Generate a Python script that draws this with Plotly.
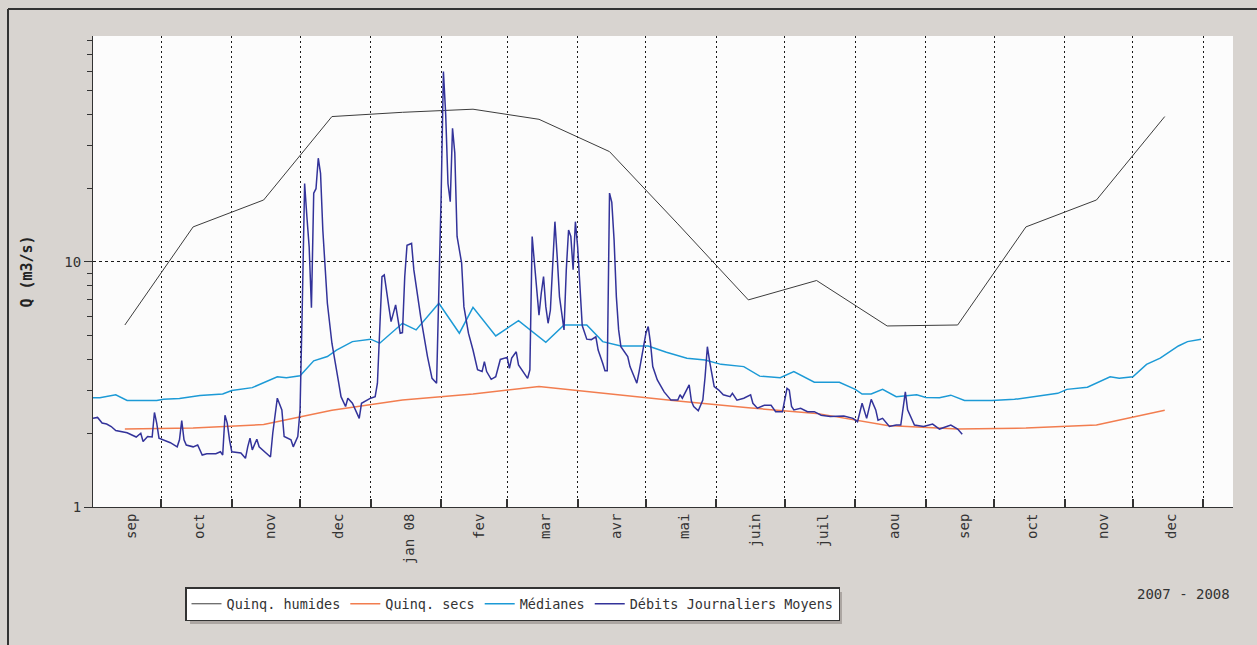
import pandas as pd
import plotly.graph_objects as go

# ---------------- data ----------------
START = "2007-09-01"

# monthly reference values (plotted mid-month)
quinq_dates = ["2007-09-15", "2007-10-15", "2007-11-15", "2007-12-15",
               "2008-01-15", "2008-02-15", "2008-03-15", "2008-04-15",
               "2008-05-15", "2008-06-15", "2008-07-15", "2008-08-15",
               "2008-09-15", "2008-10-15", "2008-11-15", "2008-12-15"]
quinq_humides = [5.53, 13.9, 17.9, 39.2, 40.8, 42.0, 38.2, 28.2,
                 14.3, 7.0, 8.4, 5.48, 5.53, 13.9, 17.9, 39.2]
quinq_secs = [2.08, 2.10, 2.17, 2.48, 2.73, 2.89, 3.10, 2.89,
              2.71, 2.54, 2.41, 2.15, 2.08, 2.10, 2.16, 2.48]

# medians (days since START)
med_day = [0, 3, 10, 15, 28, 31, 38, 47, 57, 61,
           70, 81, 85, 91, 97, 103, 107, 114, 122, 126,
           136, 142, 152, 161, 167, 177, 187, 199, 207, 217,
           224, 232, 244, 252, 261, 269, 276, 286, 293, 302,
           308, 311, 317, 328, 335, 338, 342, 347, 353, 362,
           366, 372, 377, 383, 395, 405, 413, 424, 428, 437,
           447, 451, 457, 463, 469, 477, 481, 487]
med_q = [2.79, 2.79, 2.87, 2.72, 2.72, 2.75, 2.77, 2.85, 2.89, 2.99,
         3.07, 3.40, 3.37, 3.43, 3.95, 4.11, 4.37, 4.73, 4.84, 4.66,
         5.62, 5.28, 6.78, 5.12, 6.53, 4.99, 5.76, 4.70, 5.53, 5.53,
         4.73, 4.54, 4.54, 4.28, 4.05, 3.98, 3.82, 3.74, 3.42, 3.37,
         3.57, 3.46, 3.23, 3.23, 3.02, 2.89, 2.89, 3.02, 2.82, 2.87,
         2.80, 2.79, 2.86, 2.72, 2.72, 2.75, 2.82, 2.91, 3.02, 3.08,
         3.40, 3.35, 3.40, 3.82, 4.05, 4.54, 4.73, 4.84]

# daily mean flows (days since START)
daily_day = [0, 2, 4, 6, 8, 10, 15, 17, 19, 21,
             22, 24, 26, 27, 28, 29, 31, 34, 37, 38,
             39, 40, 41, 44, 46, 48, 50, 54, 56, 57,
             58, 59, 60, 61, 65, 67, 68, 69, 70, 72,
             73, 76, 78, 79, 81, 83, 84, 87, 88, 90,
             91, 92, 93, 94, 95, 96, 97, 98, 99, 100,
             101, 103, 105, 108, 109, 111, 112, 114, 117, 118,
             122, 124, 125, 127, 128, 130, 131, 133, 134, 135,
             136, 137, 138, 140, 141, 144, 147, 149, 151, 152,
             153, 154, 155, 156, 157, 158, 159, 160, 162, 163,
             165, 167, 169, 171, 172, 173, 175, 177, 179, 182,
             183, 184, 186, 187, 191, 192, 193, 194, 195, 196,
             197, 198, 199, 200, 201, 202, 203, 204, 205, 207,
             208, 209, 210, 211, 212, 213, 214, 215, 217, 219,
             221, 222, 224, 225, 226, 227, 228, 229, 230, 231,
             232, 235, 236, 238, 239, 240, 243, 244, 245, 246,
             248, 251, 254, 257, 258, 259, 260, 262, 263, 264,
             266, 268, 269, 270, 271, 273, 275, 277, 280, 281,
             283, 286, 289, 290, 292, 295, 298, 300, 303, 305,
             306, 307, 308, 311, 314, 317, 320, 324, 330, 334,
             336, 338, 340, 342, 344, 345, 347, 350, 353, 355,
             357, 358, 361, 365, 369, 372, 377, 380, 382]
daily_q = [2.30, 2.32, 2.20, 2.18, 2.13, 2.05, 2.01, 1.97, 1.93, 2.00,
           1.85, 1.94, 1.93, 2.43, 2.20, 1.91, 1.88, 1.83, 1.76, 1.88,
           2.25, 1.88, 1.79, 1.76, 1.79, 1.63, 1.65, 1.65, 1.68, 1.63,
           2.37, 2.20, 1.88, 1.68, 1.66, 1.58, 1.76, 1.91, 1.71, 1.89,
           1.76, 1.66, 1.60, 2.00, 2.78, 2.49, 1.94, 1.88, 1.76, 1.94,
           2.49, 6.78, 20.9, 15.3, 11.5, 6.5, 19.1, 19.9, 26.5, 23.0,
           13.5, 6.78, 4.66, 3.20, 2.82, 2.57, 2.78, 2.65, 2.30, 2.65,
           2.78, 2.82, 3.20, 8.71, 8.85, 6.57, 5.71, 6.68, 5.80, 5.12,
           5.15, 8.7, 11.7, 11.9, 9.28, 5.98, 4.11, 3.35, 3.20, 7.22,
           18.5, 59.8, 40.0, 20.9, 17.6, 35.1, 27.8, 12.7, 9.9, 6.57,
           5.12, 4.37, 3.63, 3.57, 3.92, 3.57, 3.32, 3.40, 4.00, 4.08,
           3.68, 4.05, 4.30, 3.80, 3.35, 3.63, 12.7, 9.9, 7.92, 6.07,
           7.45, 8.71, 6.57, 5.62, 6.35, 10.2, 14.6, 10.5, 7.22, 5.28,
           9.3, 13.5, 12.7, 9.3, 14.6, 11.5, 8.21, 5.5, 4.84, 4.82,
           4.95, 4.37, 3.86, 3.60, 3.60, 19.1, 17.5, 12.3, 7.22, 5.28,
           4.51, 4.11, 3.74, 3.35, 3.20, 3.57, 5.12, 5.45, 4.66, 3.74,
           3.30, 2.95, 2.73, 2.73, 2.87, 2.78, 2.91, 3.15, 2.70, 2.57,
           2.47, 2.73, 3.40, 4.51, 3.92, 3.10, 3.00, 2.87, 2.82, 2.91,
           2.73, 2.78, 2.87, 2.65, 2.53, 2.60, 2.60, 2.45, 2.45, 3.05,
           3.00, 2.57, 2.49, 2.53, 2.45, 2.45, 2.37, 2.34, 2.35, 2.30,
           2.23, 2.65, 2.30, 2.75, 2.49, 2.26, 2.30, 2.13, 2.16, 2.16,
           2.95, 2.49, 2.16, 2.13, 2.18, 2.08, 2.16, 2.08, 1.98]

# axis labels
month_labels = ["sep", "oct", "nov", "dec", "jan 08", "fev", "mar", "avr",
                "mai", "juin", "juil", "aou", "sep", "oct", "nov", "dec"]
label_dates = ["2007-09-18", "2007-10-18", "2007-11-18", "2007-12-18",
               "2008-01-18", "2008-02-18", "2008-03-18", "2008-04-18",
               "2008-05-18", "2008-06-18", "2008-07-18", "2008-08-18",
               "2008-09-18", "2008-10-18", "2008-11-18", "2008-12-18"]
grid_dates = ["2007-10-01", "2007-11-01", "2007-12-01", "2008-01-01",
              "2008-02-01", "2008-03-01", "2008-04-01", "2008-05-01",
              "2008-06-01", "2008-07-01", "2008-08-01", "2008-09-01",
              "2008-10-01", "2008-11-01", "2008-12-01", "2009-01-01"]
x_range = ["2007-09-01", "2009-01-14"]
y_minor = [2, 3, 4, 5, 6, 7, 8, 9, 20, 30, 40, 50, 60, 70, 80]

# ---------------- figure ----------------
start = pd.Timestamp(START)
med_dates = start + pd.to_timedelta(med_day, unit="D")
daily_dates = start + pd.to_timedelta(daily_day, unit="D")

FONT = "DejaVu Sans Mono"
fig = go.Figure()
fig.add_trace(go.Scatter(x=quinq_dates, y=quinq_humides, mode="lines",
                         name="Quinq. humides", line=dict(color="#3c3c3c", width=1)))
fig.add_trace(go.Scatter(x=quinq_dates, y=quinq_secs, mode="lines",
                         name="Quinq. secs", line=dict(color="#f27d4f", width=1.5)))
fig.add_trace(go.Scatter(x=med_dates, y=med_q, mode="lines",
                         name="Médianes", line=dict(color="#1c9ad6", width=1.5)))
fig.add_trace(go.Scatter(x=daily_dates, y=daily_q, mode="lines",
                         name="Débits Journaliers Moyens", line=dict(color="#33339a", width=1.5)))

L, R, T, B = 93, 24, 36, 138
W, H = 1257, 645
pw, ph = W - L - R, H - T - B


def px(x):
    return (x - L) / pw


def py(y):
    return (H - B - y) / ph


fig.update_layout(
    width=W, height=H,
    margin=dict(l=L, r=R, t=T, b=B),
    paper_bgcolor="#d8d4d0", plot_bgcolor="#fcfcfc",
    font=dict(family=FONT, size=14, color="#333333"),
    showlegend=True,
    legend=dict(orientation="h", x=px(185), xanchor="left", y=py(587), yanchor="top",
                bgcolor="#ffffff", bordercolor="#333333", borderwidth=1.5,
                font=dict(family=FONT, size=13.5, color="#333333"), itemwidth=30),
    xaxis=dict(type="date", range=x_range, tickmode="array", tickvals=label_dates,
               ticktext=month_labels, tickangle=-90, ticks="", showgrid=False,
               showline=True, linecolor="#333333", linewidth=1, zeroline=False,
               tickfont=dict(family=FONT, size=14, color="#333333"),
               minor=dict(tickmode="array", tickvals=grid_dates, ticks="inside", ticklen=8,
                          tickcolor="#333333", tickwidth=1.5, showgrid=True, gridcolor="#1a1a1a",
                          griddash="2px,3px", gridwidth=1.2)),
    yaxis=dict(type="log", range=[0, 1.922], tickmode="array", tickvals=[1, 10],
               ticktext=["1", "10"], ticks="outside", ticklen=8, tickcolor="#333333",
               showgrid=True, gridcolor="#1a1a1a", griddash="3px,3px", gridwidth=1,
               showline=True, linecolor="#333333", linewidth=1, zeroline=False,
               tickfont=dict(family=FONT, size=14, color="#333333"),
               title=dict(text="<b>Q (m3/s)</b>", standoff=28,
                          font=dict(family=FONT, size=15, color="#222222")),
               minor=dict(tickmode="array", tickvals=y_minor, ticks="outside", ticklen=5,
                          tickcolor="#333333", showgrid=False)),
    annotations=[dict(text="2007 - 2008", xref="paper", yref="paper", x=px(1232), y=py(594),
                      xanchor="right", yanchor="middle", showarrow=False,
                      font=dict(family=FONT, size=14, color="#333333"))],
    shapes=[
        dict(type="rect", xref="paper", yref="paper", x0=px(190), x1=px(842), y0=py(592), y1=py(624),
             fillcolor="#aca6a2", line=dict(width=0), layer="above"),
        dict(type="line", xref="paper", yref="paper", x0=px(8), x1=px(1300), y0=py(9), y1=py(9),
             line=dict(color="#333333", width=2)),
        dict(type="line", xref="paper", yref="paper", x0=px(8), x1=px(8), y0=py(9), y1=py(700),
             line=dict(color="#333333", width=2)),
    ],
)

fig.write_html("out.html", config={"displayModeBar": False},
               post_script="document.body.style.margin='0';document.body.style.overflow='hidden';")
